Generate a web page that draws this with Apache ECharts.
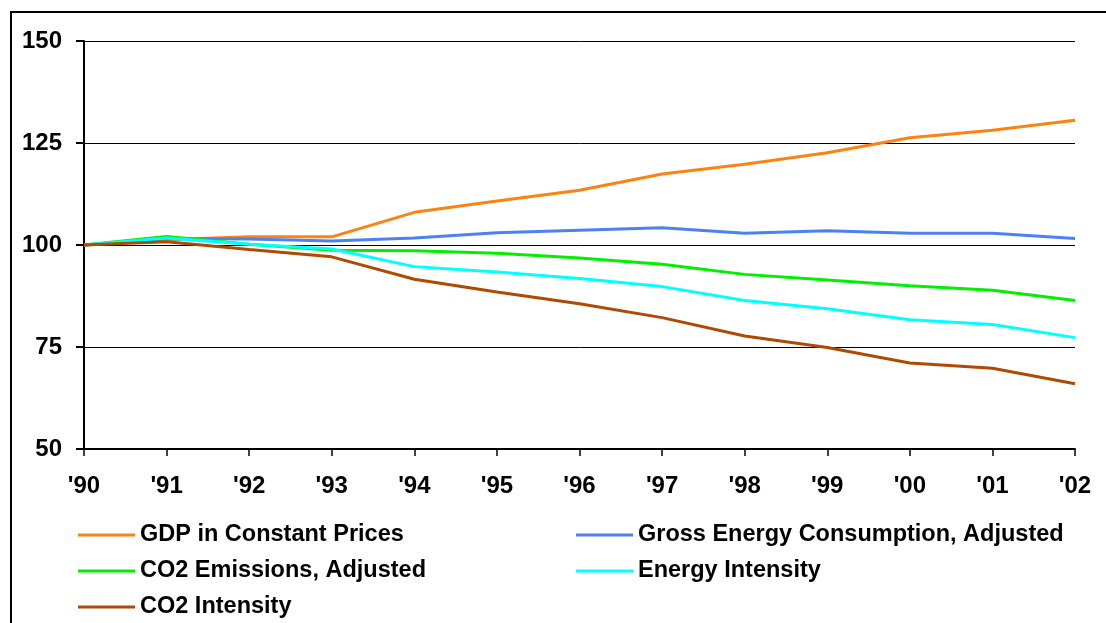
<!DOCTYPE html>
<html>
<head>
<meta charset="utf-8">
<style>
  html, body { margin: 0; padding: 0; background: #fff; }
  #chart { width: 1106px; height: 623px; }
</style>
<script src="https://cdn.jsdelivr.net/npm/echarts@6/dist/echarts.min.js"></script>
</head>
<body>
<div id="chart"></div>
<script>
// Index values, 1990 = 100
const years = ["'90", "'91", "'92", "'93", "'94", "'95", "'96", "'97", "'98", "'99", "'00", "'01", "'02"];
const gdpConstantPrices = [100, 101.3, 102.0, 102.0, 108.0, 110.8, 113.4, 117.4, 119.8, 122.6, 126.3, 128.1, 130.6];
const grossEnergyConsumption = [100, 101.6, 101.5, 101.0, 101.7, 103.0, 103.6, 104.2, 102.9, 103.5, 102.9, 102.9, 101.6];
const co2Emissions = [100, 102.1, 100.2, 98.7, 98.6, 98.0, 96.8, 95.3, 92.8, 91.4, 90.0, 88.9, 86.4];
const energyIntensity = [100, 101.7, 100.2, 99.0, 94.7, 93.4, 91.8, 89.8, 86.4, 84.4, 81.7, 80.5, 77.3];
const co2Intensity = [100, 100.8, 98.9, 97.1, 91.6, 88.5, 85.6, 82.2, 77.7, 74.9, 71.1, 69.8, 66.0];

const seriesNames = [
  'GDP in Constant Prices',
  'Gross Energy Consumption, Adjusted',
  'CO2 Emissions, Adjusted',
  'Energy Intensity',
  'CO2 Intensity'
];
const seriesData = [gdpConstantPrices, grossEnergyConsumption, co2Emissions, energyIntensity, co2Intensity];
const seriesColors = ['#FF8210', '#4A82F4', '#00F000', '#00FFFF', '#B04A00'];

const FONT = '"Liberation Sans", Arial, sans-serif';
const labelStyle = { color: '#000', fontFamily: FONT, fontWeight: 'bold', fontSize: 24 };

const legendCommon = {
  orient: 'vertical',
  top: 523,
  padding: 0,
  itemWidth: 57,
  itemHeight: 3,
  itemGap: 12,
  icon: 'rect',
  textStyle: { color: '#000', fontFamily: FONT, fontWeight: 'bold', fontSize: 23.5, lineHeight: 24 }
};

const chart = echarts.init(document.getElementById('chart'), null, { renderer: 'canvas' });
chart.setOption({
  animation: false,
  backgroundColor: '#fff',
  graphic: [{
    type: 'rect',
    shape: { x: 11, y: 12, width: 1200, height: 700 },
    style: { fill: 'none', stroke: '#000', lineWidth: 2 },
    silent: true
  }],
  grid: { left: 84, right: 31, top: 41, bottom: 174, containLabel: false },
  legend: [
    Object.assign({ left: 78, data: [seriesNames[0], seriesNames[2], seriesNames[4]] }, legendCommon),
    Object.assign({ left: 576, data: [seriesNames[1], seriesNames[3]] }, legendCommon)
  ],
  xAxis: {
    type: 'category',
    data: years,
    boundaryGap: false,
    axisLine: { lineStyle: { color: '#000', width: 2 } },
    axisTick: { show: true, length: 7, lineStyle: { color: '#000', width: 1.5 } },
    axisLabel: Object.assign({ margin: 25 }, labelStyle),
    splitLine: { show: false }
  },
  yAxis: {
    type: 'value',
    min: 50,
    max: 150,
    interval: 25,
    axisLine: { show: true, lineStyle: { color: '#000', width: 2 } },
    axisTick: { show: true, length: 8, lineStyle: { color: '#000', width: 2 } },
    axisLabel: Object.assign({ margin: 22 }, labelStyle),
    splitLine: { show: true, lineStyle: { color: '#000', width: 1 } }
  },
  series: seriesNames.map((name, i) => ({
    name: name,
    type: 'line',
    data: seriesData[i],
    symbol: 'none',
    smooth: false,
    color: seriesColors[i],
    lineStyle: { width: 3, color: seriesColors[i] }
  }))
});
</script>
</body>
</html>
